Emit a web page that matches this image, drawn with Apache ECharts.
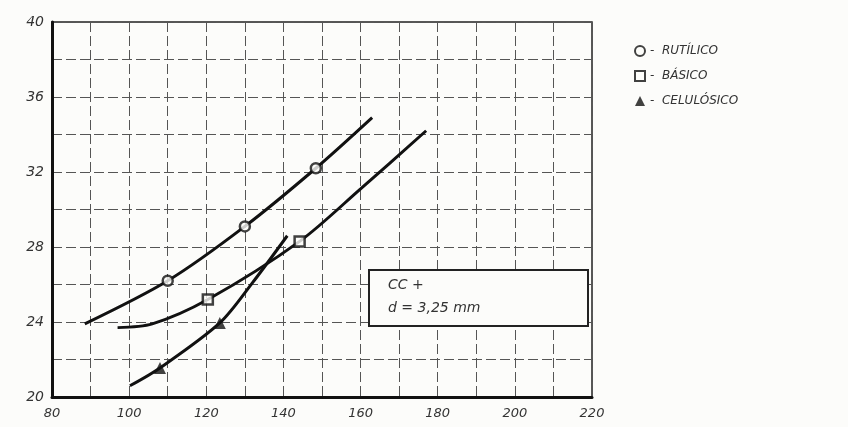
<!DOCTYPE html>
<html>
<head>
<meta charset="utf-8">
<script src="https://cdn.jsdelivr.net/npm/echarts@6/dist/echarts.min.js"></script>
<style>html,body{margin:0;padding:0;background:#fcfcfa;}#c{width:848px;height:427px;}</style>
</head>
<body>
<div id="c"></div>
<script>
// Curves (x, y)
const rutilicoCurve = [[88.5,23.9],[110,26.2],[130,29.1],[148.4,32.2],[163,34.9]];
const basicoCurve = [[97,23.7],[106,23.9],[120.4,25.2],[144.2,28.3],[160,31.1],[177,34.2]];
const celulosicoCurve = [[100.2,20.6],[108,21.55],[123.5,23.95],[132,26.1],[141,28.6]];
// Marked points
const rutilicoPts = [[110,26.2],[130,29.1],[148.4,32.2]];
const basicoPts = [[120.4,25.2],[144.2,28.3]];
const celulosicoPts = [[108,21.55],[123.5,23.95]];
const seriesNames = ['RUTÍLICO','BÁSICO','CELULÓSICO'];
const xTicks = [80,100,120,140,160,180,200,220];
const yTicks = [20,24,28,32,36,40];
const annotation = ['CC +','d = 3,25 mm'];

const chart = echarts.init(document.getElementById('c'));
const lineStyle = {color:'#111', width:3};
function curve(data){
  return {type:'line', data:data, smooth:0.3, showSymbol:false, symbol:'none', lineStyle:lineStyle, silent:true, z:3};
}
chart.setOption({
  backgroundColor:'#fcfcfa',
  animation:false,
  grid:{left:52, right:256, top:22, bottom:30, show:true, borderColor:'#222', borderWidth:1.5},
  legend:{
    orient:'vertical', left:629, top:40, itemGap:13, itemWidth:10, itemHeight:10,
    data:seriesNames,
    formatter:function(n){return '-  ' + n;},
    textStyle:{color:'#333', fontSize:12, fontStyle:'italic', fontFamily:'DejaVu Sans'}
  },
  xAxis:{
    type:'value', min:80, max:220, interval:10,
    axisLine:{lineStyle:{color:'#111', width:3}},
    axisTick:{show:false},
    axisLabel:{color:'#333', fontSize:13, fontFamily:'DejaVu Sans', fontStyle:'italic', margin:10,
      formatter:function(v){return xTicks.indexOf(v)>=0 ? String(v) : '';}},
    splitLine:{show:true, lineStyle:{color:'#555', width:1, type:[10,4]}}
  },
  yAxis:{
    type:'value', min:20, max:40, interval:2,
    axisLine:{lineStyle:{color:'#111', width:3}},
    axisTick:{show:false},
    axisLabel:{color:'#333', fontSize:14, fontFamily:'DejaVu Sans', fontStyle:'italic', margin:8,
      formatter:function(v){return yTicks.indexOf(v)>=0 ? String(v) : '';}},
    splitLine:{show:true, lineStyle:{color:'#555', width:1, type:[10,4]}}
  },
  series:[
    curve(rutilicoCurve),
    curve(basicoCurve),
    curve(celulosicoCurve),
    {name:seriesNames[0], type:'scatter', data:rutilicoPts, symbol:'circle', symbolSize:10,
      itemStyle:{color:'#fcfcfa', borderColor:'#111', borderWidth:2.5}, z:5},
    {name:seriesNames[1], type:'scatter', data:basicoPts, symbol:'rect', symbolSize:10,
      itemStyle:{color:'#fcfcfa', borderColor:'#111', borderWidth:2.5}, z:5},
    {name:seriesNames[2], type:'scatter', data:celulosicoPts, symbol:'triangle', symbolSize:12,
      itemStyle:{color:'#111'}, z:5}
  ],
  graphic:[
    {type:'rect', left:368, top:269, shape:{width:219, height:56},
      style:{fill:'#fcfcfa', stroke:'#222', lineWidth:2}, z:10},
    {type:'text', left:388, top:278,
      style:{text:annotation[0], fill:'#333', font:'italic 14px DejaVu Sans'}, z:11},
    {type:'text', left:388, top:301,
      style:{text:annotation[1], fill:'#333', font:'italic 14px DejaVu Sans'}, z:11}
  ]
});
</script>
</body>
</html>
